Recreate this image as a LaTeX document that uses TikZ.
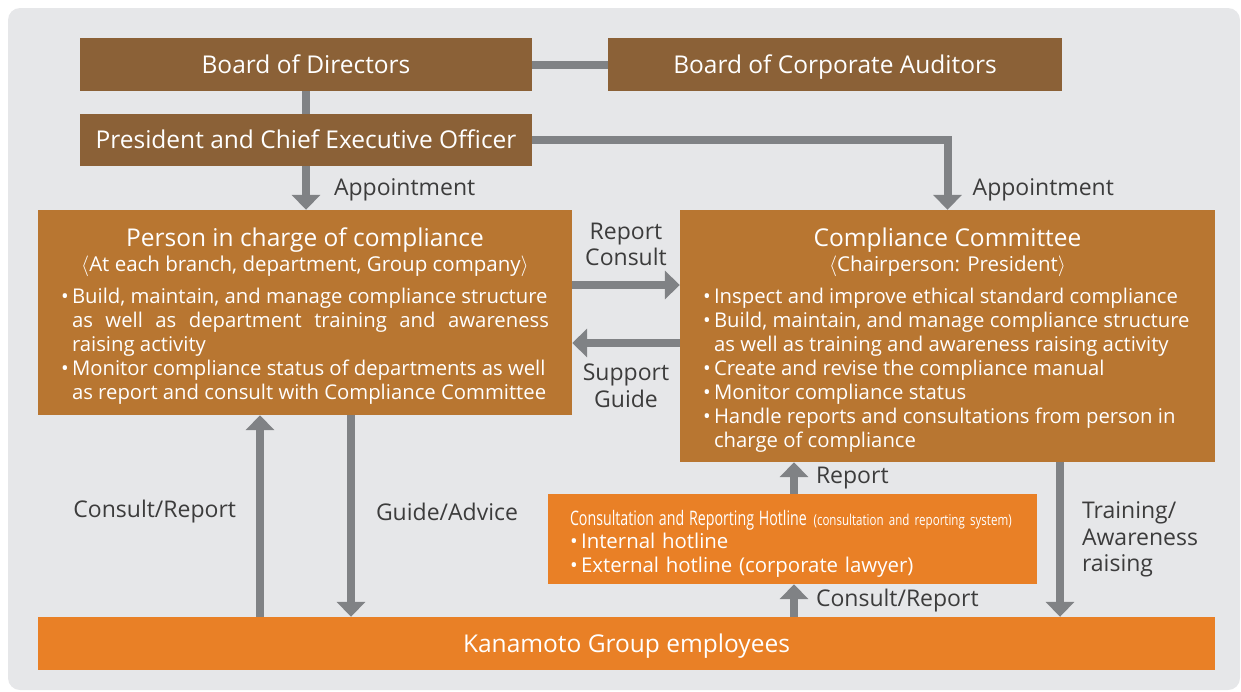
\documentclass[tikz,border=0pt]{standalone}
\usepackage{fontspec}
\setmainfont{Open Sans}
\usetikzlibrary{arrows.meta,calc,positioning}
\definecolor{bgGray}{HTML}{E6E7E9}
\definecolor{darkBrown}{HTML}{8B6137}
\definecolor{midBrown}{HTML}{B87631}
\definecolor{brightOrange}{HTML}{E98026}
\definecolor{arrGray}{HTML}{808285}
\definecolor{lblGray}{HTML}{3C3C3C}
\newcommand{\ind}{\phantom{•\,}}
\newcommand{\bul}{•\,}
\begin{document}
\begin{tikzpicture}[x=1pt,y=-1pt,
	box/.style={rectangle,inner sep=0pt,text=white,font=\fontsize{24.5}{27}\selectfont},
	onerow/.style={box,text height=19pt,text depth=1.5pt},
	arr/.style={draw=arrGray,line width=8pt,-{Triangle[width=28pt,length=15pt]}},
	bar/.style={draw=arrGray,line width=8pt},
	lbl/.style={text=lblGray,inner sep=0pt,font=\fontsize{23}{26.5}\selectfont}]
\useasboundingbox (0,0) rectangle (1241,691);
\fill[bgGray,rounded corners=12pt] (8,8) rectangle (1240,690);
% top of the structure
\node[onerow,fill=darkBrown,minimum width=452,minimum height=53] (bod) at (306,64.5) {Board of Directors};
\node[onerow,fill=darkBrown,minimum width=454,minimum height=53] (aud) at (835,64.5) {Board of Corporate Auditors};
\node[onerow,fill=darkBrown,minimum width=452,minimum height=52] (pres) at (306,140) {President and Chief Executive Officer};
% the two compliance boxes
\node[box,fill=midBrown,minimum width=534,minimum height=205,align=center] (pic) at (305,312.5)
	{\rule{0pt}{26pt}{\fontsize{24.5}{26}\selectfont Person in charge of compliance}\\[-2pt]
	{\fontsize{20.5}{24}\selectfont $\langle$At each branch, department, Group company$\rangle$}\\[5pt]
	\parbox[t]{488pt}{\fontsize{20.3}{24}\selectfont
	\bul Build, maintain, and manage compliance structure\\
	\makebox[\linewidth][s]{\ind as well as department training and awareness}\\
	\ind raising activity\\
	\bul Monitor compliance status of departments as well\\
	\ind as report and consult with Compliance Committee}};
\node[box,fill=midBrown,minimum width=535,minimum height=252,align=center] (cc) at (947.5,336)
	{\rule{0pt}{26pt}{\fontsize{24.5}{26}\selectfont Compliance Committee}\\[-2pt]
	{\fontsize{20.5}{24}\selectfont $\langle$Chairperson: President$\rangle$}\\[5pt]
	\parbox[t]{489pt}{\fontsize{20.3}{24}\selectfont
	\bul Inspect and improve ethical standard compliance\\
	\bul Build, maintain, and manage compliance structure\\
	\ind as well as training and awareness raising activity\\
	\bul Create and revise the compliance manual\\
	\bul Monitor compliance status\\
	\bul Handle reports and consultations from person in\\
	\ind charge of compliance}};
\node[box,fill=brightOrange,minimum width=489,minimum height=90,text width=445pt,align=left,
	font=\fontsize{20.4}{24}\selectfont] (hot) at (792.5,539)
	{\rule{0pt}{25pt}\scalebox{0.71}[1]{\fontsize{20}{23}\selectfont Consultation and Reporting Hotline}~%
	\scalebox{0.77}[1]{\fontsize{15}{23}\selectfont (consultation and reporting system)}\\[-1pt]
	\bul Internal hotline\\
	\bul External hotline (corporate lawyer)};
\node[onerow,fill=brightOrange,minimum width=1177,minimum height=53] (emp) at (626.5,643.5) {Kanamoto Group employees};
% connectors
\draw[bar] (bod.east) -- (aud.west);
\draw[bar] (bod.south) -- (pres.north);
\draw[arr] (pres.south) -- (pres.south |- pic.north)
	node[lbl,midway,right=24pt,yshift=-2pt] {Appointment};
\draw[arr] (pres.east) -| (cc.north);
\node[lbl,anchor=west] at ($(cc.north)+(25,-20)$) {Appointment};
\draw[arr] ([yshift=27.5pt]pic.east) -- ([yshift=27.5pt]pic.east -| cc.west)
	node[lbl,midway,above=15pt,align=center] {Report\\Consult};
\draw[arr] ([yshift=-30.5pt]pic.east -| cc.west) -- ([yshift=-30.5pt]pic.east)
	node[lbl,midway,below=17pt,align=center] {Support\\Guide};
\draw[arr] ([xshift=-45pt]pic.south |- emp.north) -- ([xshift=-45pt]pic.south)
	node[lbl,midway,left=20pt,yshift=4pt] {Consult/Report};
\draw[arr] ([xshift=46pt]pic.south) -- ([xshift=46pt]pic.south |- emp.north)
	node[lbl,midway,right=21pt,yshift=4pt] {Guide/Advice};
\draw[arr] ([xshift=1.5pt]hot.north) -- ([xshift=1.5pt]hot.north |- cc.south)
	node[lbl,midway,right=18pt] {Report};
\draw[arr] ([xshift=1.5pt]hot.south |- emp.north) -- ([xshift=1.5pt]hot.south)
	node[lbl,midway,right=18pt] {Consult/Report};
\draw[arr] ([xshift=112.5pt]cc.south) -- ([xshift=112.5pt]cc.south |- emp.north)
	node[lbl,midway,right=18pt,align=left] {Training/\\Awareness\\raising};
\end{tikzpicture}
\end{document}
